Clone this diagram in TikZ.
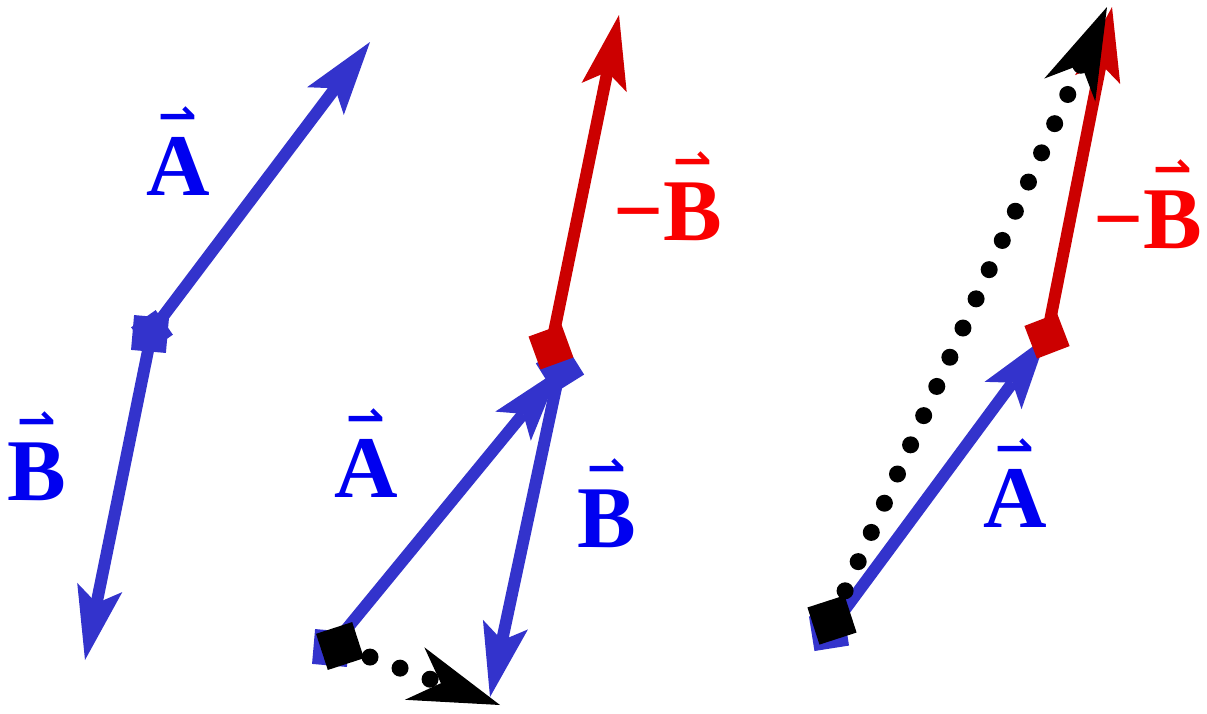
\documentclass[tikz,border=0pt]{standalone}
\usepackage{fontspec}
\setmainfont{Liberation Serif}
\newfontfamily\symf{DejaVu Sans}
\usetikzlibrary{arrows.meta,backgrounds}
\definecolor{vblue}{RGB}{51,51,204}
\definecolor{tblue}{RGB}{0,0,240}
\definecolor{vred}{RGB}{204,0,0}
\definecolor{tred}{RGB}{250,0,0}
\newcommand{\vlet}[1]{\ooalign{\textbf{#1}\cr\hidewidth\raisebox{64pt}{\fontsize{46}{46}\selectfont\symf ⇀}\hidewidth\cr}}
\tikzset{
  vec/.style = {line width=12pt, -{Stealth[length=74pt, width=46pt, inset=16pt, line width=0pt]}},
  res/.style = {black, line width=17pt, line cap=round, dash pattern=on 0pt off 32pt,
                -{Stealth[length=91pt, width=56pt, inset=28pt, line width=0pt]}},
  tail/.style = {rectangle, minimum size=35pt, inner sep=0pt},
  lbl/.style = {anchor=base, inner sep=0pt, font=\fontsize{88}{90}\selectfont\bfseries}
}
\begin{document}
\begin{tikzpicture}[x=1pt, y=-1pt]
\useasboundingbox (0,0) rectangle (1207,713);
% A and B from one point
\node[tail, fill=vblue, minimum size=30pt, rotate=35] (o) at (152,331) {};
\node[tail, fill=vblue, rotate=-5] (ob) at (150,334) {};
\coordinate (atip) at (370,42);
\coordinate (btip) at (85,660);
\node[lbl, tblue] (la) at (178,195) {\vlet{A}};
\node[lbl, tblue] (lb) at (37,500) {\vlet{B}};

% A - B, head to tail
\node[tail, fill=vblue, rotate=-5] (p) at (331,648) {};
\node[tail, fill=black, minimum size=38pt, rotate=18] (ps) at (340,646) {};
\node[tail, fill=vblue, rotate=32] (q) at (560,369) {};
\node[tail, fill=vred, rotate=20] (r) at (551,347) {};
\coordinate (qtip) at (490,697);
\coordinate (rtip) at (619,15);
\coordinate (stip) at (500,705);
\node[lbl, tblue] (la2) at (366,497) {\vlet{A}};
\node[lbl, tblue] (lb2) at (607,547) {\vlet{B}};
\node[lbl, tred] (lnb2) at (668,240) {\textbf{−}\vlet{B}};

% A + (-B)
\node[tail, fill=vblue, rotate=9] (u) at (829,631) {};
\node[tail, fill=black, minimum size=39pt, rotate=18] (us) at (832,620) {};
\node[tail, fill=vred, rotate=21] (w) at (1047,336) {};
\coordinate (wtip) at (1112,7);
\coordinate (ustip) at (1107,7);
\node[lbl, tblue] (la3) at (1015,527) {\vlet{A}};
\node[lbl, tred] (lnb3) at (1148,248) {\textbf{−}\vlet{B}};

\begin{scope}[on background layer]
  \draw[vec, vblue] (o.center) -- (atip);
  \draw[vec, vblue] (o.center) -- (btip);
  \draw[vec, vblue] (q.center) -- (qtip);
  \draw[vec, vblue] (p.center) -- (q.center);
  \draw[vec, vred] (r.center) -- (rtip);
  \draw[res] (ps.center) -- (stip);
  \draw[vec, vblue] (u.center) -- (w.center);
  \draw[vec, vred] (w.center) -- (wtip);
  \draw[res] (us.center) -- (ustip);
\end{scope}
\end{tikzpicture}
\end{document}
